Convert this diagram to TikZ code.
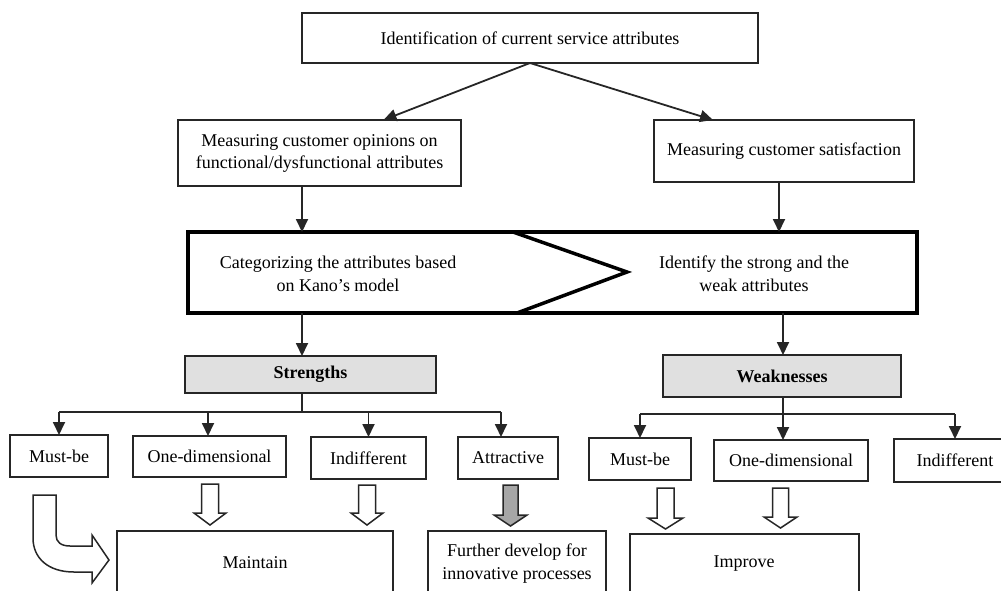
\documentclass[tikz,border=0pt]{standalone}
\usepackage{fontspec}
\setmainfont{Liberation Serif}
\usetikzlibrary{arrows.meta,calc}
\newcommand\blockdown[7]{%
  \draw[blockarrow,fill=#7] ({#1-#5},#2) -- ({#1+#5},#2) -- ({#1+#5},#3) -- ({#1+#6},#3)
    -- (#1,#4) -- ({#1-#6},#3) -- ({#1-#5},#3) -- cycle;}
\begin{document}
\begin{tikzpicture}[x=1pt,y=-1pt,
  box/.style={draw=black!85, line width=1.5pt, inner sep=0pt, outer sep=0pt, align=center,
    font=\fontsize{18}{22}\selectfont},
  labeltext/.style={inner sep=0pt, align=center, font=\fontsize{18}{23}\selectfont},
  graybox/.style={box, fill=black!12, font=\fontsize{18}{22}\selectfont\bfseries},
  conn/.style={draw=black!85, line width=1.8pt, -{Triangle[length=13pt,width=12pt]}},
  plain/.style={draw=black!85, line width=1.8pt},
  blockarrow/.style={draw=black!85, line width=1.5pt, line join=miter}]
\useasboundingbox (0,0) rectangle (1001,590);
\clip (0,0) rectangle (1001,590);

% top level
\node[box, minimum width=456pt, minimum height=50pt] (top) at (530,38)
  {Identification of current service attributes};
\node[box, minimum width=283pt, minimum height=66pt] (lm) at (319.5,153)
  {Measuring customer opinions on\\functional/dysfunctional attributes};
\node[box, minimum width=260pt, minimum height=62pt] (rm) at (784,151)
  {Measuring customer satisfaction};
\draw[conn] (top.south) -- ([xshift=205.5pt]lm.north west);
\draw[conn] (top.south) -- ([xshift=59pt]rm.north west);

% big process box
\node[draw=black, line width=3.5pt, minimum width=729pt, minimum height=81pt, inner sep=0pt, outer sep=0pt] (big) at (552.5,272.5) {};
\draw[black, line width=3.5pt, line join=miter] (513,232) -- (627,272) -- (517,313);
\node[labeltext] (cat) at (338,274) {Categorizing the attributes based\\on Kano’s model};
\node[labeltext] (ident) at (754,274) {Identify the strong and the\\weak attributes};

\draw[conn] ([xshift=-17.5pt]lm.south) coordinate (a1) -- (a1 |- big.north);
\draw[conn] ([xshift=-5pt]rm.south) coordinate (a2) -- (a2 |- big.north);

% strengths / weaknesses
\node[graybox, minimum width=251pt, minimum height=37pt] (str) at (310.5,374.5) {Strengths};
\node[graybox, minimum width=238pt, minimum height=42pt] (wk) at (782,376) {Weaknesses};
\draw[conn] (a1 |- big.south) -- (a1 |- str.north);
\draw[conn] ([xshift=-134pt]big.south east) coordinate (a3) -- (a3 |- wk.north);

% strength row
\node[box, minimum width=98pt, minimum height=42pt] (smust) at (59,456) {Must-be};
\node[box, minimum width=153pt, minimum height=41pt] (sone) at (209.5,456.5) {One-dimensional};
\node[box, minimum width=115pt, minimum height=42pt] (sind) at (368.5,458) {Indifferent};
\node[box, minimum width=100pt, minimum height=42pt] (satt) at (508,458) {Attractive};
\coordinate (sj) at (302,412);
\draw[plain] (a1 |- str.south) -- (sj);
\draw[plain] (smust.north |- sj) -- ([xshift=-7pt]satt.north |- sj);
\draw[conn] (smust.north |- sj) -- (smust.north);
\draw[conn] ([xshift=-1.5pt]sone.north |- sj) -- ([xshift=-1.5pt]sone.north);
\draw[conn] (sind.north |- sj) -- (sind.north);
\draw[conn] ([xshift=-7pt]satt.north |- sj) -- ([xshift=-7pt]satt.north);

% weakness row
\node[box, minimum width=102pt, minimum height=42pt] (wmust) at (640,459) {Must-be};
\node[box, minimum width=154pt, minimum height=41pt] (wone) at (791,460.5) {One-dimensional};
\node[box, minimum width=122pt, minimum height=43pt] (wind) at (955,460.5) {Indifferent};
\coordinate (wj) at (a3 |- 0,414);
\draw[plain] (a3 |- wk.south) -- (wj);
\draw[plain] (wmust.north |- wj) -- (wind.north |- wj);
\draw[conn] (wmust.north |- wj) -- (wmust.north);
\draw[conn] (wj) -- (wj |- wone.north);
\draw[conn] (wind.north |- wj) -- (wind.north);

% block arrows
\blockdown{210}{484}{513}{525}{8.5}{16}{white}
\blockdown{367}{485}{513}{525}{8.5}{16}{white}
\blockdown{510.5}{485}{515}{526}{7.5}{16.5}{black!35}
\blockdown{665.5}{488}{518}{529}{8.5}{17.5}{white}
\blockdown{780.5}{488}{517}{528}{8}{16.5}{white}

% curved arrow from Must-be
\draw[blockarrow, fill=white] (33,495) -- (56,495) -- (56,535)
  .. controls (56,542) and (61,546) .. (70,546) -- (92,546) -- (92,535)
  -- (109,560) -- (92,583) -- (92,572) -- (74,572)
  .. controls (48,572) and (33,558) .. (33,538) -- cycle;

% bottom boxes (cut off by the picture edge)
\node[box, minimum width=276pt, minimum height=90pt, anchor=north west] (maint) at (117,531) {};
\node[labeltext] (maintt) at (255,563) {Maintain};
\node[box, minimum width=178pt, minimum height=90pt, anchor=north west] (furth) at (428,531) {};
\node[labeltext] (furtht) at (517,564) {Further develop for\\innovative processes};
\node[box, minimum width=229pt, minimum height=90pt, anchor=north west] (impr) at (630,534) {};
\node[labeltext] (imprt) at (744,564) {Improve};
\end{tikzpicture}
\end{document}
